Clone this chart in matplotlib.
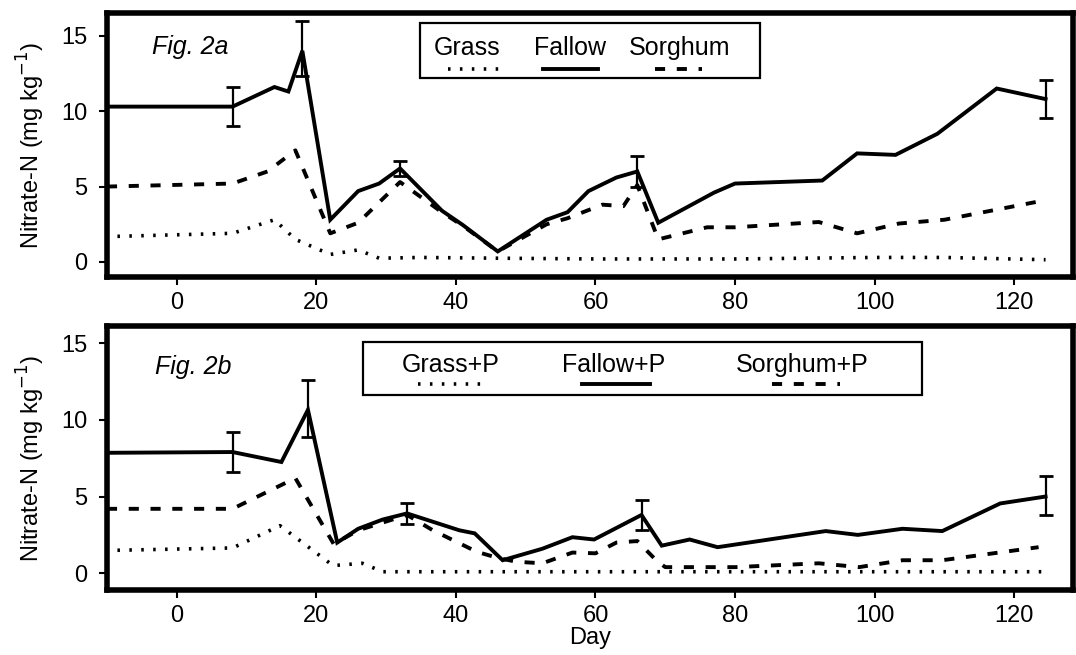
import matplotlib
matplotlib.use("Agg")
import matplotlib.pyplot as plt
from matplotlib.patches import Rectangle
from matplotlib.lines import Line2D

plt.rcParams['font.family'] = ['Liberation Sans', 'DejaVu Sans']

# ---------------- data: Fig. 2a ----------------
fallow_days = [-10, 8, 14, 16, 18, 22, 26, 29, 32, 38, 41, 46, 50, 53, 56, 59, 63, 66,
               69, 77, 80, 92.5, 97.5, 103, 109, 117.5, 124.5]
fallow_vals = [10.3, 10.3, 11.6, 11.3, 14.0, 2.8, 4.7, 5.2, 6.2, 3.4, 2.45, 0.7, 1.9, 2.8,
               3.3, 4.7, 5.6, 6.0, 2.6, 4.6, 5.2, 5.4, 7.2, 7.1, 8.5, 11.5, 10.8]
sorghum_days = [-10, 8, 13, 17, 22, 26, 32, 38, 41, 46, 53, 56, 61, 64, 66, 69, 76, 80,
                92, 97.5, 103.5, 110, 124.5]
sorghum_vals = [5.0, 5.2, 6.0, 7.4, 1.9, 2.6, 5.3, 3.3, 2.4, 0.7, 2.5, 2.9, 3.8, 3.7, 5.1,
                1.5, 2.3, 2.3, 2.65, 1.9, 2.55, 2.8, 4.1]
grass_days = [-8.5, 8, 14, 17, 22, 26, 29, 35, 46, 60, 80, 100, 110, 124.5]
grass_vals = [1.7, 1.9, 2.8, 1.5, 0.5, 0.8, 0.25, 0.3, 0.25, 0.2, 0.2, 0.3, 0.3, 0.15]
err_a_days = [8, 18, 32, 66, 124.5]
err_a_vals = [10.3, 14.15, 6.2, 6.0, 10.8]
err_a_size = [1.3, 1.85, 0.5, 1.0, 1.25]

# ---------------- data: Fig. 2b ----------------
fallowp_days = [-10, 8, 15, 18.8, 23, 26, 29.5, 33, 40.5, 42.7, 46.7, 52.4, 56.7, 59.8,
                66.6, 69.5, 73.5, 77.5, 93, 97.6, 104, 109.7, 118, 124.5]
fallowp_vals = [7.85, 7.9, 7.25, 10.65, 2.0, 2.9, 3.5, 3.9, 2.8, 2.6, 0.85, 1.6, 2.35, 2.2,
                3.8, 1.8, 2.2, 1.7, 2.75, 2.5, 2.9, 2.75, 4.55, 5.0]
sorghump_days = [-10, 8, 17, 22.5, 26, 33, 36.7, 43, 46, 48.7, 52.4, 56.7, 60, 63, 66,
                 68.7, 70, 80, 92, 97.8, 104, 109.7, 123.5]
sorghump_vals = [4.2, 4.2, 6.2, 1.9, 2.8, 3.8, 2.8, 1.4, 1.0, 0.75, 0.65, 1.35, 1.3, 2.0,
                 2.1, 0.85, 0.4, 0.4, 0.65, 0.4, 0.85, 0.85, 1.7]
grassp_days = [-8.5, 8, 14.8, 22.4, 26.6, 29.5, 46, 80, 124.5]
grassp_vals = [1.5, 1.65, 3.1, 0.5, 0.65, 0.1, 0.1, 0.1, 0.1]
err_b_days = [8, 18.8, 33, 66.6, 124.5]
err_b_vals = [7.9, 10.75, 3.9, 3.8, 5.05]
err_b_size = [1.3, 1.85, 0.7, 1.0, 1.28]

xticks = [0, 20, 40, 60, 80, 100, 120]
yticks = [0, 5, 10, 15]
ylabel = 'Nitrate-N (mg kg$^{-1}$)'

LW = 2.8
solid = dict(color='black', lw=LW, ls='-', solid_joinstyle='miter')
dashed = dict(color='black', lw=LW, ls=(0, (2.6, 3.0)), dash_capstyle='butt')
dotted = dict(color='black', lw=2.6, ls=(0, (0.7, 2.6)), dash_capstyle='butt')

fig = plt.figure(figsize=(10.76, 6.55), dpi=100)
ax1 = fig.add_axes([0.0994, 0.577, 0.8976, 0.403])
ax2 = fig.add_axes([0.0994, 0.099, 0.8976, 0.403])


def style(ax, ylim):
    ax.set_xlim(-10, 128.4)
    ax.set_ylim(*ylim)
    ax.set_xticks(xticks)
    ax.set_yticks(yticks)
    for s in ax.spines.values():
        s.set_linewidth(4)
    ax.tick_params(direction='out', length=6, width=1.5, labelsize=17, pad=5)
    ax.tick_params(axis='y', pad=8)
    ax.set_ylabel(ylabel, fontsize=17, labelpad=10)


def legend(ax, box, labels, xs, line_spans, styles, ty, ly):
    x0, x1, y0, y1 = box
    ax.add_patch(Rectangle((x0, y0), x1 - x0, y1 - y0, transform=ax.transAxes,
                           fill=False, lw=1.6, ec='black', zorder=5))
    for lab, x, (la, lb), st in zip(labels, xs, line_spans, styles):
        ax.text(x, ty, lab, transform=ax.transAxes, ha='center', va='center',
                fontsize=18, zorder=6)
        ax.add_line(Line2D([la, lb], [ly, ly], transform=ax.transAxes, zorder=6, **st))


# ---- panel a ----
ax1.plot(grass_days, grass_vals, **dotted)
ax1.plot(sorghum_days, sorghum_vals, **dashed)
ax1.plot(fallow_days, fallow_vals, **solid)
ax1.errorbar(err_a_days, err_a_vals, yerr=err_a_size, fmt='none', ecolor='black',
             elinewidth=1.6, capsize=5, capthick=2)
style(ax1, (-1.0, 16.5))
ax1.text(0.047, 0.87, 'Fig. 2a', transform=ax1.transAxes, fontsize=18,
         style='italic', ha='left', va='center')

def px(x):
    return (x - 107) / 966.0

legend(ax1, (px(420), px(760), 0.754, 0.962),
       ['Grass', 'Fallow', 'Sorghum'],
       [px(467), px(570), px(680)],
       [(px(448), px(503)), (px(543), px(598)), (px(655), px(702))],
       [dotted, solid, dashed], 0.868, 0.79)

# ---- panel b ----
ax2.plot(grassp_days, grassp_vals, **dotted)
ax2.plot(sorghump_days, sorghump_vals, **dashed)
ax2.plot(fallowp_days, fallowp_vals, **solid)
ax2.errorbar(err_b_days, err_b_vals, yerr=err_b_size, fmt='none', ecolor='black',
             elinewidth=1.6, capsize=5, capthick=2)
style(ax2, (-1.1, 16.1))
ax2.text(0.05, 0.845, 'Fig. 2b', transform=ax2.transAxes, fontsize=18,
         style='italic', ha='left', va='center')
legend(ax2, (px(363), px(922), 0.739, 0.939),
       ['Grass+P', 'Fallow+P', 'Sorghum+P'],
       [px(451), px(614), px(802)],
       [(px(418), px(487)), (px(582), px(650)), (px(772), px(840))],
       [dotted, solid, dashed], 0.852, 0.78)
ax2.set_xlabel('Day', fontsize=17, labelpad=0)

fig.savefig('out.png', dpi=100)
